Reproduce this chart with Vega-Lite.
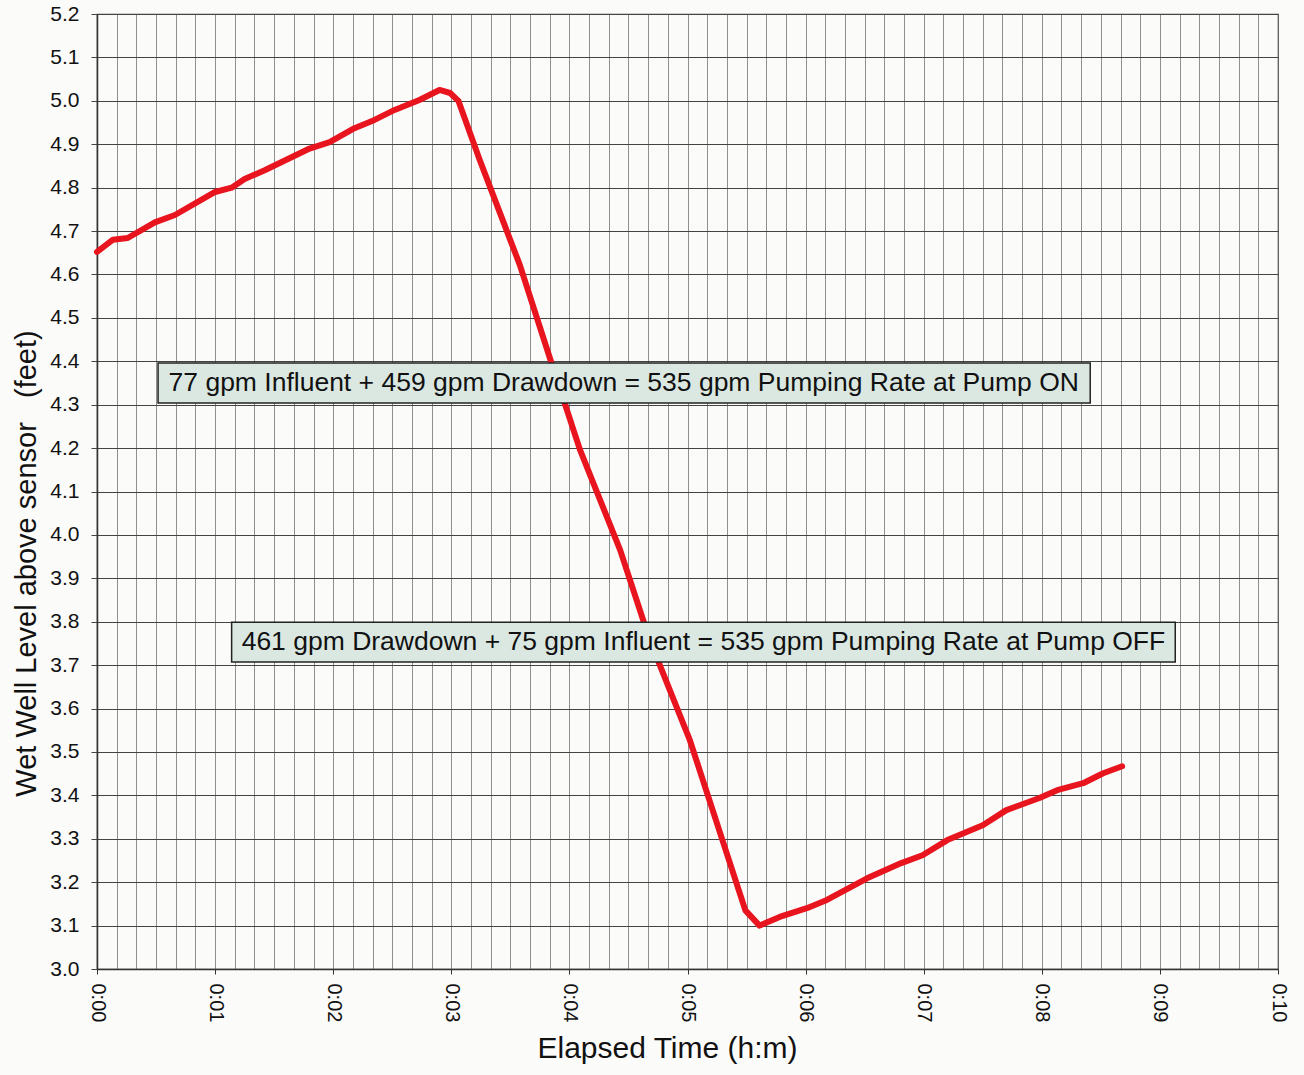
{
  "$schema": "https://vega.github.io/schema/vega-lite/v6.json",
  "width": 1181,
  "height": 955,
  "autosize": {"type": "none"},
  "padding": {"left": 97, "top": 14, "right": 26, "bottom": 106},
  "background": "#fbfbfa",
  "config": {
    "font": "Liberation Sans",
    "view": {"stroke": "#444", "strokeWidth": 1.2}
  },
  "datasets": {
    "level": [
      {"t": 0.0, "level": 4.652},
      {"t": 0.135, "level": 4.68},
      {"t": 0.26, "level": 4.684},
      {"t": 0.49, "level": 4.72},
      {"t": 0.66, "level": 4.737},
      {"t": 1.0, "level": 4.79},
      {"t": 1.14, "level": 4.80},
      {"t": 1.25, "level": 4.82},
      {"t": 1.42, "level": 4.84},
      {"t": 1.80, "level": 4.89},
      {"t": 1.97, "level": 4.905},
      {"t": 2.18, "level": 4.937},
      {"t": 2.35, "level": 4.956},
      {"t": 2.52, "level": 4.979},
      {"t": 2.73, "level": 5.002},
      {"t": 2.90, "level": 5.025},
      {"t": 2.99, "level": 5.018},
      {"t": 3.06, "level": 5.0},
      {"t": 3.24, "level": 4.864},
      {"t": 3.58, "level": 4.622},
      {"t": 3.84, "level": 4.403},
      {"t": 4.09, "level": 4.196},
      {"t": 4.43, "level": 3.965},
      {"t": 4.68, "level": 3.758},
      {"t": 5.02, "level": 3.527},
      {"t": 5.49, "level": 3.135},
      {"t": 5.61, "level": 3.10},
      {"t": 5.78, "level": 3.12},
      {"t": 6.01, "level": 3.14},
      {"t": 6.18, "level": 3.159},
      {"t": 6.52, "level": 3.209},
      {"t": 6.81, "level": 3.244},
      {"t": 6.99, "level": 3.262},
      {"t": 7.20, "level": 3.297},
      {"t": 7.50, "level": 3.331},
      {"t": 7.70, "level": 3.366},
      {"t": 7.98, "level": 3.394},
      {"t": 8.13, "level": 3.412},
      {"t": 8.35, "level": 3.428},
      {"t": 8.52, "level": 3.451},
      {"t": 8.68, "level": 3.467}
    ],
    "notes": [
      {"t1": 0.517, "t2": 8.41, "lo": 4.304, "hi": 4.396, "tc": 4.46, "lc": 4.35, "label": "77 gpm Influent + 459 gpm Drawdown = 535 gpm Pumping Rate at Pump ON"},
      {"t1": 1.14, "t2": 9.13, "lo": 3.707, "hi": 3.799, "tc": 5.135, "lc": 3.753, "label": "461 gpm Drawdown + 75 gpm Influent = 535 gpm Pumping Rate at Pump OFF"}
    ]
  },
  "layer": [
    {
      "data": {"name": "level"},
      "mark": {"type": "line", "color": "#e8141e", "strokeWidth": 6, "strokeCap": "round", "strokeJoin": "round", "interpolate": "linear"},
      "encoding": {
        "x": {
          "field": "t", "type": "quantitative",
          "scale": {"domain": [0, 10], "nice": false, "zero": false},
          "axis": {
            "title": "Elapsed Time (h:m)",
            "titleFontSize": 30, "titleFontWeight": "normal", "titleColor": "#111", "titlePadding": 12, "titleX": 570,
            "tickCount": 61,
            "values": [0,0.16667,0.33333,0.5,0.66667,0.83333,1,1.16667,1.33333,1.5,1.66667,1.83333,2,2.16667,2.33333,2.5,2.66667,2.83333,3,3.16667,3.33333,3.5,3.66667,3.83333,4,4.16667,4.33333,4.5,4.66667,4.83333,5,5.16667,5.33333,5.5,5.66667,5.83333,6,6.16667,6.33333,6.5,6.66667,6.83333,7,7.16667,7.33333,7.5,7.66667,7.83333,8,8.16667,8.33333,8.5,8.66667,8.83333,9,9.16667,9.33333,9.5,9.66667,9.83333,10],
            "labelExpr": "abs(datum.value - round(datum.value)) < 0.001 ? ('0:' + (round(datum.value) < 10 ? '0' : '') + round(datum.value)) : ''",
            "labelAngle": 90, "labelFontSize": 20, "labelColor": "#111", "labelPadding": 9, "labelOverlap": false, "labelBound": false, "labelFlush": false,
            "tickSize": 5,
            "tickColor": {"condition": {"test": "abs(datum.value - round(datum.value)) < 0.001", "value": "#333"}, "value": "transparent"},
            "grid": true, "gridColor": "#666", "gridWidth": 0.8, "gridOpacity": 0.9,
            "domainColor": "#333", "domainWidth": 1.5
          }
        },
        "y": {
          "field": "level", "type": "quantitative",
          "scale": {"domain": [3.0, 5.2], "nice": false, "zero": false},
          "axis": {
            "title": "Wet Well Level above sensor\u00a0\u00a0\u00a0(feet)",
            "titleFontSize": 29, "titleFontWeight": "normal", "titleColor": "#111", "titleX": -56, "titleY": 549, "titleBaseline": "bottom",
            "tickCount": 23,
            "values": [3.0,3.1,3.2,3.3,3.4,3.5,3.6,3.7,3.8,3.9,4.0,4.1,4.2,4.3,4.4,4.5,4.6,4.7,4.8,4.9,5.0,5.1,5.2],
            "format": ".1f", "labelFontSize": 21, "labelColor": "#111", "labelPadding": 12, "labelOverlap": false, "labelFlush": false,
            "tickSize": 6, "tickColor": "#444",
            "grid": true, "gridColor": "#444", "gridWidth": 1.1,
            "domainColor": "#333", "domainWidth": 1.5
          }
        }
      }
    },
    {
      "data": {"name": "notes"},
      "mark": {"type": "rect", "fill": "#dbe8e2", "stroke": "#222", "strokeWidth": 1.5},
      "encoding": {
        "x": {"field": "t1", "type": "quantitative"},
        "x2": {"field": "t2"},
        "y": {"field": "lo", "type": "quantitative"},
        "y2": {"field": "hi"}
      }
    },
    {
      "data": {"name": "notes"},
      "mark": {"type": "text", "fontSize": 26.5, "color": "#111", "align": "center", "baseline": "middle"},
      "encoding": {
        "x": {"field": "tc", "type": "quantitative"},
        "y": {"field": "lc", "type": "quantitative"},
        "text": {"field": "label"}
      }
    }
  ]
}
